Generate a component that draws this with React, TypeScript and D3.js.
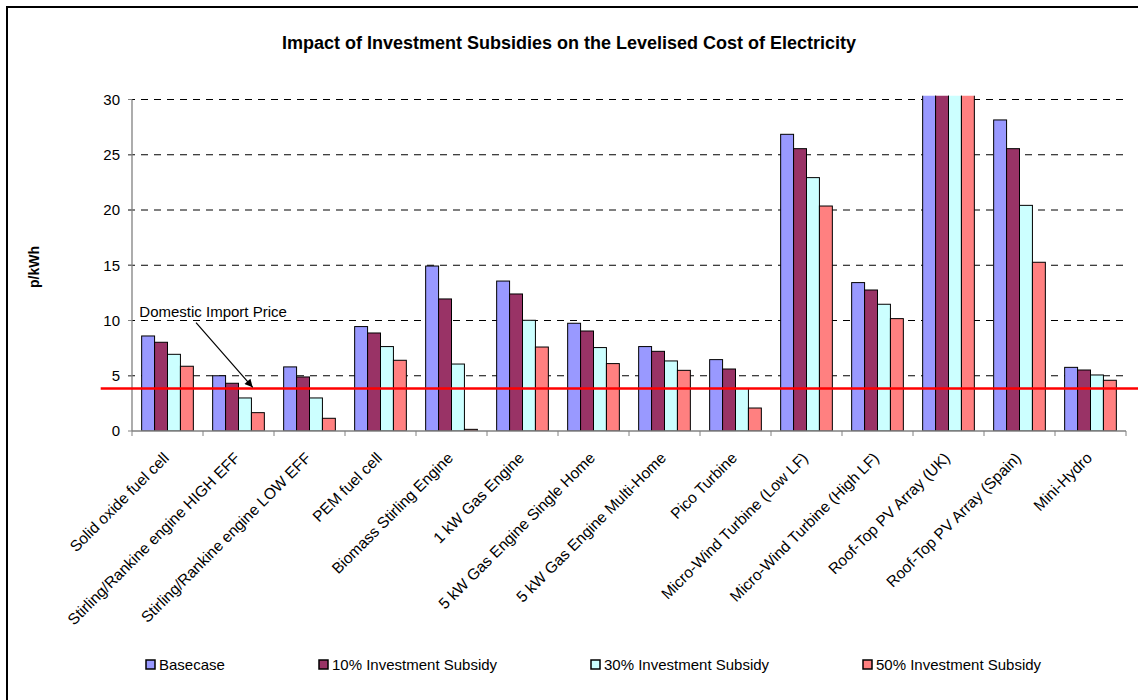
import React from "react";
import * as d3 from "d3";

const categories = [
  "Solid oxide fuel cell",
  "Stirling/Rankine engine HIGH EFF",
  "Stirling/Rankine engine LOW EFF",
  "PEM fuel cell",
  "Biomass Stirling Engine",
  "1 kW Gas Engine",
  "5 kW Gas Engine Single Home",
  "5 kW Gas Engine Multi-Home",
  "Pico Turbine",
  "Micro-Wind Turbine (Low LF)",
  "Micro-Wind Turbine (High LF)",
  "Roof-Top PV Array (UK)",
  "Roof-Top PV Array (Spain)",
  "Mini-Hydro",
];

const seriesNames = [
  "Basecase",
  "10% Investment Subsidy",
  "30% Investment Subsidy",
  "50% Investment Subsidy",
];

const basecase = [8.6, 5.0, 5.8, 9.45, 14.93, 13.57, 9.75, 7.64, 6.46, 26.85, 13.43, 56.5, 28.15, 5.76];
const subsidy10 = [8.03, 4.32, 4.89, 8.87, 11.95, 12.4, 9.05, 7.21, 5.61, 25.55, 12.76, 51.4, 25.55, 5.52];
const subsidy30 = [6.94, 2.99, 2.99, 7.64, 6.06, 10.02, 7.55, 6.34, 3.84, 22.93, 11.47, 41.0, 20.42, 5.07];
const subsidy50 = [5.86, 1.66, 1.15, 6.4, 0.15, 7.6, 6.1, 5.49, 2.08, 20.36, 10.17, 30.7, 15.27, 4.59];

const seriesColors = ["#9999FF", "#993366", "#CCFFFF", "#FF8080"];
const yTicks = [0, 5, 10, 15, 20, 25, 30];
const importPrice = 3.84;

const title = "Impact of Investment Subsidies on the Levelised Cost of Electricity";
const yTitle = "p/kWh";
const annotation = "Domestic Import Price";

const FONT = "'Liberation Sans', Arial, sans-serif";

export default function App() {
  const W = 1138;
  const H = 700;
  const left = 132;
  const right = 1126;
  const bottom = 431;
  const top = 99.5;

  const values = [basecase, subsidy10, subsidy30, subsidy50];

  const x = d3.scaleBand<string>().domain(categories).range([left, right]).paddingInner(0.272).paddingOuter(0.136);
  const xs = d3.scaleBand<string>().domain(seriesNames).range([0, x.bandwidth()]);
  const y = d3.scaleLinear().domain([0, 30]).range([bottom, top]);
  const step = x.step();

  const legendX = [146, 319, 591, 863];

  return (
    <svg width={W} height={H} style={{ position: "absolute", left: 0, top: 0, background: "#fff" }} fontFamily={FONT}>
      <defs>
        <clipPath id="plotClip">
          <rect x={left - 50} y={top - 3.8} width={right - left + 100} height={bottom - top + 3.8} />
        </clipPath>
        <marker id="arrowHead" viewBox="0 0 10 10" refX="10" refY="5" markerWidth="10" markerHeight="8" markerUnits="userSpaceOnUse" orient="auto">
          <path d="M0,0 L10,5 L0,10 Z" fill="#000" />
        </marker>
      </defs>
      <rect x={0} y={0} width={W} height={H} fill="#fff" />
      <rect x={7} y={7} width={1400} height={900} fill="none" stroke="#000" strokeWidth={2} />

      <text x={569} y={49} textAnchor="middle" fontWeight="bold" fontSize={18}>{title}</text>

      {/* gridlines */}
      {yTicks.filter((t) => t > 0).map((t) => (
        <line key={"g" + t} x1={left - 4} x2={right - 2} y1={y(t)} y2={y(t)} stroke="#000" strokeWidth={1} strokeDasharray="7,6" />
      ))}

      {/* bars */}
      <g clipPath="url(#plotClip)">
        {categories.map((c, i) => (
          <g key={c}>
            {seriesNames.map((s, j) => {
              const v = values[j][i];
              const bx = (x(c) as number) + (xs(s) as number);
              const by = y(v);
              return (
                <rect key={s} x={bx} y={by} width={xs.bandwidth()} height={bottom - by} fill={seriesColors[j]} stroke="#000" strokeWidth={1} />
              );
            })}
          </g>
        ))}
      </g>

      {/* y axis */}
      <line x1={left} x2={left} y1={top} y2={bottom} stroke="#808080" strokeWidth={1.3} />
      {yTicks.map((t) => (
        <g key={"t" + t}>
          <line x1={left - 4} x2={left} y1={y(t)} y2={y(t)} stroke="#808080" strokeWidth={1} />
          <text x={120} y={y(t)} dy="0.36em" textAnchor="end" fontSize={15}>{t}</text>
        </g>
      ))}
      <text transform={`translate(39,267) rotate(-90)`} textAnchor="middle" fontWeight="bold" fontSize={14}>{yTitle}</text>

      {/* x axis */}
      <line x1={left} x2={right} y1={bottom} y2={bottom} stroke="#808080" strokeWidth={1.3} />
      {d3.range(categories.length + 1).map((k) => (
        <line key={"xt" + k} x1={left + k * step} x2={left + k * step} y1={bottom} y2={bottom + 5} stroke="#808080" strokeWidth={1} />
      ))}
      {categories.map((c) => {
        const cx = (x(c) as number) + x.bandwidth() / 2;
        return (
          <text key={"l" + c} transform={`translate(${cx + 2.5},${bottom + 28}) rotate(-45)`} textAnchor="end" fontSize={15.5}>{c}</text>
        );
      })}

      {/* import price line */}
      <line x1={100.7} x2={W} y1={y(importPrice)} y2={y(importPrice)} stroke="#FF0000" strokeWidth={2.6} />
      <text x={139.3} y={317} fontSize={15}>{annotation}</text>
      <line x1={196} y1={322.7} x2={252.7} y2={387.3} stroke="#000" strokeWidth={1.2} markerEnd="url(#arrowHead)" />

      {/* legend */}
      {seriesNames.map((s, j) => (
        <g key={"lg" + s}>
          <rect x={legendX[j]} y={660} width={9} height={9} fill={seriesColors[j]} stroke="#000" strokeWidth={1.5} />
          <text x={legendX[j] + 13} y={670} fontSize={15}>{s}</text>
        </g>
      ))}
    </svg>
  );
}
